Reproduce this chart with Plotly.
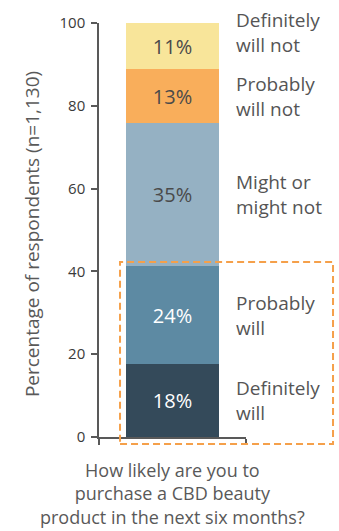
import plotly.graph_objects as go

# Survey responses, bottom to top of the stack (percent of n=1,130)
responses = ["Definitely<br>will", "Probably<br>will", "Might or<br>might not",
             "Probably<br>will not", "Definitely<br>will not"]
shares = [17.6, 23.6, 34.6, 13.0, 11.2]
seg_colors = ["#344a5a", "#5d8aa3", "#95b1c3", "#f9ae5b", "#f8e59a"]
text_colors = ["#ffffff", "#ffffff", "#4a4a4a", "#4a4a4a", "#4a4a4a"]
y_ticks = [0, 20, 40, 60, 80, 100]

FONT = "Open Sans"

fig = go.Figure()
for name, val, col, tcol in zip(responses, shares, seg_colors, text_colors):
    fig.add_trace(go.Bar(
        x=[0], y=[val], name=name.replace("<br>", " "),
        marker=dict(color=col, line=dict(width=0)),
        width=0.626,
        texttemplate="%{y:.0f}%", textposition="inside",
        insidetextanchor="middle", constraintext="none",
        textfont=dict(family=FONT, size=20, color=tcol),
        hoverinfo="skip",
    ))

# Response labels to the right of the bar, centred on each segment
cum = 0
for i, (name, val) in enumerate(zip(responses, shares)):
    mid = cum + val / 2
    cum += val
    fig.add_annotation(
        x=0.918, xref="paper", y=mid, yref="y",
        text=name, showarrow=False, xanchor="left", yanchor="middle",
        align="left", yshift=14 if i == len(responses) - 1 else 0,
        font=dict(family=FONT, size=19, color="#555555"),
    )

# Y-axis title
fig.add_annotation(
    x=-0.456, xref="paper", y=0.49, yref="paper",
    text="Percentage of respondents (n=1,130)", textangle=-90,
    showarrow=False, xanchor="center", yanchor="middle",
    font=dict(family=FONT, size=19, color="#595959"),
)

# Question text under the bar
fig.add_annotation(
    x=0.5, xref="paper", y=-0.046, yref="paper",
    text="How likely are you to<br>purchase a CBD beauty<br>product in the next six months?",
    showarrow=False, xanchor="center", yanchor="top", align="center",
    font=dict(family=FONT, size=18, color="#595959"),
)

# Dashed box around the "will purchase" responses
fig.add_shape(
    type="rect", xref="paper", yref="paper",
    x0=0.143, x1=1.592, y0=-0.0168, y1=0.423,
    line=dict(color="#f5a04a", width=2, dash="7px,4px"),
    fillcolor="rgba(0,0,0,0)", layer="above",
)

fig.update_layout(
    width=339, height=531,
    margin=dict(l=99, r=93, t=21, b=94),
    barmode="stack", showlegend=False,
    plot_bgcolor="white", paper_bgcolor="white",
    xaxis=dict(
        range=[-0.5, 0.5], tickvals=[-0.5, 0.5], ticktext=["", ""],
        ticks="outside", ticklen=6, tickwidth=1.5, tickcolor="#595959",
        showline=True, linecolor="#595959", linewidth=1.5,
        showgrid=False, zeroline=False, fixedrange=True,
    ),
    yaxis=dict(
        range=[0, 100], tickvals=y_ticks,
        ticks="outside", ticklen=6, tickwidth=1.5, tickcolor="#595959",
        showline=True, linecolor="#595959", linewidth=1.5,
        showgrid=False, zeroline=False, ticklabelstandoff=3,
        tickfont=dict(family=FONT, size=15, color="#3a3a3a"),
    ),
)

fig.write_html("out.html")
